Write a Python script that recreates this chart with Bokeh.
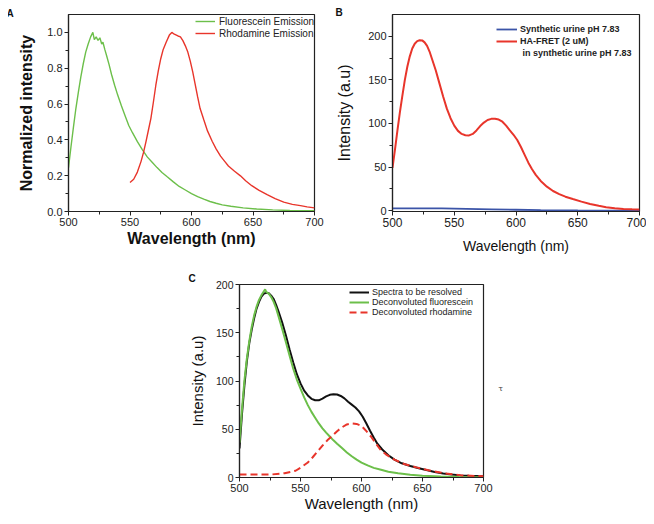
from bokeh.plotting import figure
from bokeh.models import (Range1d, FixedTicker, Legend, LegendItem, Spacer, LinearAxis,
                          CustomJSTickFormatter)
from bokeh.layouts import column, row
from bokeh.embed import file_html
from bokeh.resources import INLINE

# ---------------- data ----------------
# Panel A: normalized emission
fl_a_x = [500, 502, 504, 506, 508, 510, 512, 514, 516, 518, 519.8, 521, 522.5, 524, 525.5, 527,
          528, 529.5, 531, 533, 535, 537.5, 540, 543, 546, 549, 552, 556, 560, 564, 568, 572,
          576, 580, 585, 590, 595, 600, 605, 610, 615, 620, 625, 632, 642, 653, 666, 680, 700]
fl_a_y = [0.245, 0.36, 0.47, 0.575, 0.665, 0.75, 0.825, 0.89, 0.935, 0.975, 1.0, 0.96, 0.975,
          0.955, 0.97, 0.935, 0.945, 0.905, 0.87, 0.82, 0.765, 0.705, 0.65, 0.59, 0.535, 0.48,
          0.44, 0.39, 0.345, 0.305, 0.275, 0.245, 0.218, 0.195, 0.167, 0.14, 0.12, 0.1, 0.083,
          0.069, 0.056, 0.046, 0.037, 0.029, 0.02, 0.014, 0.009, 0.006, 0.004]
rh_a_x = [550, 553, 556, 559, 561, 563, 565, 567, 569, 571, 573, 575, 577, 579.4, 582, 584, 586,
          589, 591, 593, 595, 597, 599, 601, 603, 605, 607, 610, 613, 616.8, 620, 623.6, 627,
          630, 635, 639.8, 644, 649, 655, 661.5, 668, 675, 682, 688.6, 694, 700]
rh_a_y = [0.162, 0.18, 0.22, 0.28, 0.33, 0.39, 0.455, 0.52, 0.61, 0.705, 0.785, 0.853, 0.905,
          0.945, 0.985, 1.0, 0.99, 0.98, 0.975, 0.954, 0.925, 0.89, 0.84, 0.78, 0.71, 0.64,
          0.575, 0.512, 0.45, 0.392, 0.35, 0.309, 0.28, 0.254, 0.225, 0.199, 0.172, 0.144,
          0.118, 0.094, 0.072, 0.052, 0.04, 0.033, 0.026, 0.02]

# Panel B: intensity in synthetic urine
bl_b_x = [500, 520, 540, 560, 580, 600, 620, 650, 700]
bl_b_y = [2.5, 2.5, 2.5, 2.0, 1.5, 1.0, 0.5, 0.2, 0.0]
hf_b_x = [500, 502, 504, 506, 508, 510, 512, 514, 516, 518, 520, 522, 524, 526, 528, 530, 532,
          535, 538, 541, 544, 547, 550, 553, 556, 559, 562, 565, 568, 571, 574, 577, 580, 583,
          586, 589, 592, 595, 598, 601, 604, 607, 610, 613, 616, 620, 625, 630, 635, 640, 646,
          653, 660, 667, 673, 680, 687, 694, 700]
hf_b_y = [49, 70, 92, 113, 132, 150, 165, 177, 186, 191.5, 194.5, 195.5, 195.3, 193, 189,
          182.5, 174, 161, 146, 131, 117, 106, 97.5, 91.5, 88, 86.5, 86.3, 88, 92, 97, 101, 104,
          105.3, 105.5, 104.5, 102, 97.5, 92, 87, 81, 73, 64, 55, 47.5, 41, 34, 27.5, 22.5, 19,
          16, 13.3, 10.3, 7.6, 5.5, 3.9, 2.8, 2, 1.6, 1.4]

# Panel C: deconvolution
sp_c_x = [500, 502, 504, 506, 508, 510, 512, 514, 516, 518, 520, 522, 524, 526, 528, 530, 532,
          535, 538, 541, 544, 547, 550, 553, 556, 559, 562, 565, 568, 571, 574, 577, 580, 583,
          586, 589, 592, 595, 598, 601, 604, 607, 610, 613, 617, 622, 627, 633, 640, 647, 654,
          660, 667, 674, 681, 688, 700]
sp_c_y = [30, 65, 95, 120, 139, 153, 165, 175, 182, 187.5, 190.5, 191.5, 191, 188.5, 185, 179,
          172, 160.5, 147.5, 133, 119.5, 107, 97.5, 90, 85, 81.5, 80, 80, 81.8, 84, 85.7, 86.3,
          86, 84.5, 82, 78.5, 75.5, 72.5, 68.5, 63, 56, 48.5, 41.5, 35, 29, 23, 18.5, 14.7, 12,
          9.6, 7.5, 5.7, 4.2, 3, 2.2, 1.7, 1.3]
df_c_x = [500, 502, 504, 506, 508, 510, 512, 514, 516, 518, 520, 521, 522, 524, 526, 528, 530,
          532, 535, 538, 541, 544, 547, 550, 553, 556, 559, 562, 565, 568, 571, 574, 577, 580,
          584, 588, 592, 596, 600, 605, 610, 616, 622, 630, 640, 650, 665, 680, 700]
df_c_y = [36, 70, 100, 123, 141, 156, 168, 177, 184, 189, 193, 195, 192, 190.5, 187, 182,
          175.5, 167, 154, 140.5, 126.5, 113, 101.5, 92, 83, 75, 68, 62, 56, 51, 46.5, 42.5,
          38.5, 35, 30.5, 26, 22, 18.5, 15.5, 12.5, 10, 8, 6, 4.3, 2.8, 1.8, 1, 0.6, 0.3]
rd_c_x = [500, 525, 537, 546, 551, 556, 560, 564, 568, 572, 576, 580, 584, 588, 592, 596, 600,
          604, 608, 612, 616, 620, 627, 635, 645, 655, 667, 682, 700]
rd_c_y = [3, 3, 4.4, 7, 11, 15.5, 21, 27, 33, 38.5, 43, 48, 52, 55, 56, 55.5, 53.5, 48, 42,
          35, 28, 24, 18.5, 14, 10.5, 7.5, 4.5, 2.2, 1.3]

x_ticks = [500, 550, 600, 650, 700]
x_minor = [525, 575, 625, 675]
ya_ticks = [0.0, 0.2, 0.4, 0.6, 0.8, 1.0]
ya_minor = [0.1, 0.3, 0.5, 0.7, 0.9]
yb_ticks = [0, 50, 100, 150, 200]
yb_minor = [25, 75, 125, 175]

FONT = "Liberation Sans"
GREEN = "#6cbf4a"
RED = "#e8352b"
BLUE = "#3b54a8"


def make_fig(w, h, yr, left, right, top, bottom):
    p = figure(width=w, height=h, x_range=Range1d(500, 700), y_range=Range1d(*yr),
               output_backend="svg", toolbar_location=None,
               min_border_left=left, min_border_right=right,
               min_border_top=top, min_border_bottom=bottom)
    p.xgrid.visible = False
    p.ygrid.visible = False
    p.outline_line_color = "#222222"
    p.outline_line_width = 1.2
    p.background_fill_color = "white"
    p.border_fill_color = "white"
    for ax in (p.xaxis[0], p.yaxis[0]):
        ax.axis_line_color = "#222222"
        ax.axis_line_width = 1.2
        ax.major_tick_line_color = "#222222"
        ax.minor_tick_line_color = "#222222"
        ax.major_tick_in = 0
        ax.major_tick_out = 4
        ax.minor_tick_in = 0
        ax.minor_tick_out = 3
        ax.major_label_text_font = FONT
        ax.major_label_text_color = "#222222"
        ax.axis_label_text_font = FONT
        ax.axis_label_text_color = "#111111"
    p.xaxis[0].ticker = FixedTicker(ticks=x_ticks, minor_ticks=x_minor)
    return p


def style_legend(p, items, loc, size, style, gw, gh, standoff):
    lg = Legend(items=items, location=loc, padding=0, margin=0, spacing=0,
                border_line_color=None, background_fill_alpha=0,
                glyph_width=gw, glyph_height=gh, label_height=gh,
                label_standoff=standoff, label_text_font=FONT,
                label_text_font_size=size, label_text_font_style=style,
                label_text_color="#222222")
    p.add_layout(lg)


def panel_letter(p, text, offset, standoff):
    t = p.title
    t.text = text
    t.align = "left"
    t.vertical_align = "bottom"
    t.offset = offset
    t.standoff = standoff
    t.text_font = FONT
    t.text_font_size = "10px"
    t.text_font_style = "bold"
    t.text_color = "#111111"


# ---------------- Panel A ----------------
pA = make_fig(317, 254, (0, 1.1), 60, 11, 4, 51)
pA.yaxis[0].ticker = FixedTicker(ticks=ya_ticks, minor_ticks=ya_minor)
pA.yaxis[0].formatter = CustomJSTickFormatter(code="return tick.toFixed(1)")
pA.xaxis[0].axis_label = "Wavelength (nm)"
pA.yaxis[0].axis_label = "Normalized intensity"
for ax in (pA.xaxis[0], pA.yaxis[0]):
    ax.axis_label_text_font_style = "bold"
    ax.axis_label_text_font_size = "16px"
    ax.major_label_text_font_size = "11px"
    ax.major_label_standoff = 2
pA.xaxis[0].axis_label_standoff = 1
pA.yaxis[0].axis_label_standoff = 9
ra1 = pA.line(fl_a_x, fl_a_y, line_color=GREEN, line_width=1.4)
ra2 = pA.line(rh_a_x, rh_a_y, line_color=RED, line_width=1.4)
style_legend(pA, [LegendItem(label="Fluorescein Emission", renderers=[ra1]),
                  LegendItem(label="Rhodamine Emission", renderers=[ra2])],
             (127, 172), "10px", "normal", 20, 12, 4)
panel_letter(pA, "A", -62, -8)

# ---------------- Panel B ----------------
pB = make_fig(321, 254, (-1, 225), 67, 7, 6, 50)
pB.yaxis[0].ticker = FixedTicker(ticks=yb_ticks, minor_ticks=yb_minor)
pB.xaxis[0].axis_label = "Wavelength (nm)"
pB.yaxis[0].axis_label = "Intensity (a.u)"
for ax in (pB.xaxis[0], pB.yaxis[0]):
    ax.axis_label_text_font_style = "normal"
    ax.major_label_standoff = 2
pB.xaxis[0].axis_label_text_font_size = "14px"
pB.yaxis[0].axis_label_text_font_size = "16px"
pB.xaxis[0].major_label_text_font_size = "12px"
pB.yaxis[0].major_label_text_font_size = "11px"
pB.xaxis[0].axis_label_standoff = 8
pB.yaxis[0].axis_label_standoff = 12
rb1 = pB.line(bl_b_x, bl_b_y, line_color=BLUE, line_width=1.8)
rb2 = pB.line(hf_b_x, hf_b_y, line_color=RED, line_width=2.0)
style_legend(pB, [LegendItem(label="Synthetic urine pH 7.83", renderers=[rb1]),
                  LegendItem(label="HA-FRET (2 uM)", renderers=[rb2]),
                  LegendItem(label=" in synthetic urine pH 7.83", renderers=[])],
             (104, 152), "9px", "bold", 21, 12, 3)
panel_letter(pB, "B", -57, -7)

# ---------------- Panel C ----------------
pC = make_fig(335, 252, (0, 200), 69, 22, 22, 31)
pC.yaxis[0].ticker = FixedTicker(ticks=yb_ticks, minor_ticks=yb_minor)
pC.xaxis[0].axis_label = "Wavelength (nm)"
pC.yaxis[0].axis_label = "Intensity (a.u)"
for ax in (pC.xaxis[0], pC.yaxis[0]):
    ax.axis_label_text_font_style = "normal"
    ax.axis_label_text_font_size = "15px"
    ax.major_label_standoff = 2
pC.xaxis[0].major_label_text_font_size = "11px"
pC.yaxis[0].major_label_text_font_size = "10.5px"
pC.xaxis[0].axis_label_standoff = 0
pC.yaxis[0].axis_label_standoff = 7
rc1 = pC.line(sp_c_x, sp_c_y, line_color="#111111", line_width=2.0)
rc2 = pC.line(df_c_x, df_c_y, line_color=GREEN, line_width=2.0)
rc3 = pC.line(rd_c_x, rd_c_y, line_color=RED, line_width=2.0, line_dash="7 4")
style_legend(pC, [LegendItem(label="Spectra to be resolved", renderers=[rc1]),
                  LegendItem(label="Deconvoluted fluorescein", renderers=[rc2]),
                  LegendItem(label="Deconvoluted rhodamine", renderers=[rc3])],
             (110, 160), "9px", "normal", 20, 10, 3)
panel_letter(pC, "C", -51, 2)

# stray small glyph at the right of panel C
tau_axis = LinearAxis(ticker=FixedTicker(ticks=[92], minor_ticks=[]),
                      major_label_overrides={92: "τ"},
                      axis_line_color=None, major_tick_line_color=None,
                      minor_tick_line_color=None, major_tick_out=0, major_tick_in=0,
                      major_label_standoff=15, major_label_text_font="DejaVu Serif",
                      major_label_text_font_size="8px", major_label_text_color="#444444")
pC.add_layout(tau_axis, "right")

inner = column(row(pA, pB), row(Spacer(width=162, height=252), pC))
layout = column(Spacer(width=10, height=8), row(Spacer(width=8, height=10), inner))
open("out.html", "w").write(file_html(layout, INLINE))
